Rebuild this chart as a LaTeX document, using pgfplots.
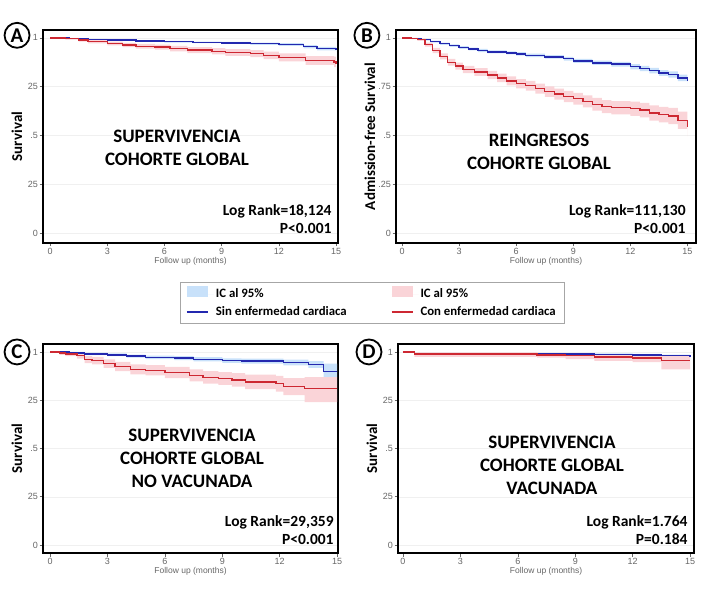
\documentclass[border=0pt]{standalone}
\usepackage{pgfplots}
\pgfplotsset{compat=1.18}
\usepackage{pgfplotstable}
\usepgfplotslibrary{fillbetween}
\usepackage{fontspec}
\setmainfont{Carlito}
\newfontfamily\arial{Liberation Sans}

\definecolor{blueL}{RGB}{35,40,175}
\definecolor{redL}{RGB}{205,40,50}
\definecolor{blueCI}{RGB}{200,225,250}
\definecolor{redCI}{RGB}{250,212,216}

% x = months, y = survival, lo/hi = 95% CI
\pgfplotstableread{
x y lo hi
0 1 1 1
1 0.996 0.994 0.998
2 0.992 0.989 0.995
3 0.988 0.985 0.991
4.5 0.984 0.980 0.988
6 0.980 0.976 0.984
7.5 0.977 0.973 0.981
9 0.974 0.969 0.979
10.5 0.970 0.964 0.976
12 0.966 0.959 0.973
13.3 0.954 0.946 0.962
14 0.945 0.936 0.954
15 0.937 0.927 0.947
}\Ablue
\pgfplotstableread{
x y lo hi
0 1 1 1
0.8 0.996 0.991 1
1.5 0.988 0.981 0.995
2 0.980 0.971 0.988
3 0.971 0.961 0.981
3.8 0.963 0.952 0.974
4.5 0.957 0.945 0.969
5.5 0.952 0.939 0.965
6.3 0.945 0.931 0.959
7.2 0.937 0.922 0.952
8.5 0.931 0.915 0.947
9.2 0.925 0.908 0.942
10.5 0.919 0.901 0.937
11.2 0.910 0.891 0.929
12 0.900 0.880 0.920
13.4 0.884 0.861 0.906
14.9 0.877 0.850 0.904
15 0.865 0.835 0.895
}\Ared
\pgfplotstableread{
x y lo hi
0 1 1 1
0.5 0.998 0.996 1
1 0.990 0.986 0.994
1.5 0.980 0.975 0.985
2 0.970 0.964 0.976
2.5 0.960 0.954 0.966
3 0.950 0.943 0.957
3.5 0.943 0.936 0.950
4 0.935 0.927 0.943
4.5 0.928 0.920 0.936
5.5 0.923 0.915 0.931
6 0.918 0.909 0.927
6.5 0.910 0.901 0.919
7.5 0.902 0.893 0.911
8.5 0.893 0.883 0.903
9 0.882 0.872 0.892
10 0.872 0.861 0.883
11 0.865 0.853 0.877
12 0.852 0.839 0.865
12.5 0.843 0.830 0.856
13 0.832 0.818 0.846
13.5 0.820 0.805 0.835
14 0.812 0.796 0.828
14.5 0.795 0.778 0.812
15 0.780 0.762 0.798
}\Bblue
\pgfplotstableread{
x y lo hi
0 1 1 1
0.5 0.997 0.993 1
0.8 0.990 0.984 0.996
1.2 0.965 0.955 0.975
1.6 0.935 0.922 0.948
2 0.905 0.890 0.920
2.4 0.875 0.858 0.892
2.8 0.855 0.837 0.873
3.2 0.838 0.819 0.857
3.8 0.825 0.805 0.845
4.5 0.810 0.789 0.831
5 0.795 0.773 0.817
5.5 0.780 0.757 0.803
6 0.765 0.741 0.789
6.5 0.755 0.730 0.780
7 0.740 0.714 0.766
7.5 0.725 0.698 0.752
8 0.712 0.684 0.740
8.5 0.700 0.671 0.729
9 0.688 0.658 0.718
9.5 0.675 0.644 0.706
10 0.660 0.628 0.692
10.5 0.648 0.615 0.681
11 0.642 0.608 0.676
12 0.637 0.601 0.673
12.5 0.630 0.593 0.667
13 0.615 0.576 0.654
13.5 0.607 0.567 0.647
14 0.600 0.558 0.642
14.5 0.578 0.534 0.622
15 0.545 0.495 0.595
}\Bred
\pgfplotstableread{
x y lo hi
0 1 1 1
1 0.995 0.990 1
1.8 0.990 0.984 0.996
3 0.985 0.978 0.992
4 0.978 0.970 0.986
5 0.972 0.963 0.981
6.5 0.968 0.958 0.978
7.5 0.962 0.951 0.973
9 0.955 0.943 0.967
10 0.952 0.939 0.965
12.2 0.945 0.930 0.960
13.5 0.935 0.918 0.952
14.3 0.900 0.870 0.940
15 0.900 0.870 0.940
}\Cblue
\pgfplotstableread{
x y lo hi
0 1 1 1
0.5 0.995 0.985 1
0.8 0.990 0.978 1
1.4 0.980 0.965 0.995
1.8 0.960 0.942 0.978
2.2 0.955 0.935 0.974
2.8 0.940 0.918 0.962
3.4 0.925 0.901 0.949
4.2 0.910 0.884 0.936
5 0.905 0.878 0.932
6 0.893 0.864 0.922
7.3 0.878 0.847 0.909
8 0.868 0.836 0.900
8.8 0.862 0.829 0.895
9.5 0.855 0.820 0.890
10.2 0.845 0.807 0.883
11.8 0.835 0.794 0.876
12.2 0.820 0.776 0.864
13.3 0.810 0.740 0.870
15 0.810 0.740 0.870
}\Cred
\pgfplotstableread{
x y lo hi
0 1 1 1
0.6 0.993 0.990 0.996
3 0.992 0.989 0.995
6 0.991 0.988 0.994
8.5 0.990 0.986 0.994
10 0.988 0.984 0.992
12 0.985 0.980 0.990
13.5 0.980 0.974 0.986
15 0.975 0.968 0.982
}\Dblue
\pgfplotstableread{
x y lo hi
0 1 1 1
0.6 0.990 0.975 0.998
7 0.985 0.970 0.995
8.5 0.980 0.963 0.992
10 0.973 0.954 0.987
12 0.968 0.947 0.983
13.5 0.955 0.910 0.980
15 0.955 0.910 0.980
}\Dred

\newcommand{\kmband}[3]{%
  \addplot[name path=#3u, draw=none, const plot, forget plot] table[x=x,y=hi]{#1};
  \addplot[name path=#3l, draw=none, const plot, forget plot] table[x=x,y=lo]{#1};
  \addplot[fill=#2, draw=none, forget plot] fill between[of=#3u and #3l];
}
\newcommand{\kmline}[2]{%
  \addplot[#2, const plot, line width=1.4pt, forget plot] table[x=x,y=y]{#1};
}

\tikzset{
  panel/.style={circle, draw, line width=1.8pt, inner sep=0pt, minimum size=25pt,
    font=\bfseries\fontsize{21}{21}\selectfont},
  big/.style={align=center, font=\bfseries\fontsize{19}{23}\selectfont},
  lr/.style={align=right, anchor=east, font=\bfseries\fontsize{15.5}{18}\selectfont},
}
\pgfplotsset{
  patch legend/.style={legend image code/.code={%
    \fill[##1] (0pt,-3pt) rectangle (21pt,8pt); \path (0pt,0pt) -- (27pt,0pt);}},
  bar legend/.style={legend image code/.code={%
    \draw[##1, line width=1.7pt] (0pt,0pt) -- (21pt,0pt);}},
  km/.style={
    scale only axis, clip mode=individual,
    axis line style={line width=1.6pt},
    xtick={0,3,6,9,12,15},
    ytick={0,0.25,0.5,0.75,1},
    yticklabels={0,25,.5,25,1},
    xtick pos=left, ytick pos=left,
    tick align=outside, major tick length=3.5pt,
    tick style={gray!80!black, semithick},
    ymajorgrids, grid style={gray!12},
    /pgf/number format/assume math mode=true,
    ticklabel style={font=\arial\fontsize{9}{10}\selectfont, text=gray!80!black, inner sep=1.5pt},
    xlabel={Follow up (months)},
    every axis x label/.style={at={(rel axis cs:0.5,0)}, yshift=-18.5pt, anchor=center,
      font=\arial\fontsize{8.5}{10}\selectfont, text=gray!80!black, inner sep=1pt},
    every axis y label/.style={at={(rel axis cs:0,0.5)}, xshift=-26pt, rotate=90, anchor=center,
      font=\bfseries\fontsize{15}{17}\selectfont},
    ylabel={Survival},
  },
}

\begin{document}
\begin{tikzpicture}

% A
\begin{axis}[km, at={(43pt,357pt)}, anchor=south west, width=295pt, height=213pt,
  xmin=-0.37, xmax=15.1, ymin=-0.05, ymax=1.04,
  legend columns=2, legend cell align=left,
  legend style={at={(0.464,-0.183)}, anchor=north west, draw=gray!70,
    font=\bfseries\fontsize{12.8}{15}\selectfont,
    /tikz/every even column/.append style={column sep=42pt},
    inner xsep=6pt, inner ysep=4pt, row sep=3pt}]
\addlegendimage{patch legend, fill=blueCI, draw=none}
\addlegendimage{patch legend, fill=redCI, draw=none}
\addlegendimage{bar legend, draw=blueL}
\addlegendimage{bar legend, draw=redL}
\legend{IC al 95\%, IC al 95\%, Sin enfermedad cardiaca, Con enfermedad cardiaca}
\kmband{\Ablue}{blueCI}{ab}
\kmband{\Ared}{redCI}{ar}
\kmline{\Ablue}{blueL}
\kmline{\Ared}{redL}
\node[big] at (axis description cs:0.454,0.446) {SUPERVIVENCIA\\COHORTE GLOBAL};
\node[lr] at (axis description cs:0.99,0.113) {Log Rank=18,124\\P<0.001};
\node[panel] at (axis description cs:-0.088,0.975) {A};
\end{axis}

% B
\begin{axis}[km, at={(396pt,357pt)}, anchor=south west, width=300pt, height=213pt,
  xmin=-0.32, xmax=15.45, ymin=-0.05, ymax=1.04,
  yticklabels={0,.25,.5,.75,1}, ylabel={Admission-free Survival}]
\kmband{\Bblue}{blueCI}{bb}
\kmband{\Bred}{redCI}{br}
\kmline{\Bblue}{blueL}
\kmline{\Bred}{redL}
\node[big] at (axis description cs:0.477,0.427) {REINGRESOS\\COHORTE GLOBAL};
\node[lr] at (axis description cs:0.977,0.113) {Log Rank=111,130\\P<0.001};
\node[panel] at (axis description cs:-0.097,0.975) {B};
\end{axis}

% C
\begin{axis}[km, at={(43pt,47pt)}, anchor=south west, width=295pt, height=209pt,
  xmin=-0.37, xmax=15.05, ymin=-0.041, ymax=1.041]
\kmband{\Cblue}{blueCI}{cb}
\kmband{\Cred}{redCI}{cr}
\kmline{\Cblue}{blueL}
\kmline{\Cred}{redL}
\node[big] at (axis description cs:0.505,0.455) {SUPERVIVENCIA\\COHORTE GLOBAL\\NO VACUNADA};
\node[lr] at (axis description cs:0.997,0.11) {Log Rank=29,359\\P<0.001};
\node[panel] at (axis description cs:-0.088,0.962) {C};
\end{axis}

% D
\begin{axis}[km, at={(398pt,47pt)}, anchor=south west, width=296pt, height=209pt,
  xmin=-0.26, xmax=15.2, ymin=-0.041, ymax=1.041]
\kmband{\Dblue}{blueCI}{db}
\kmband{\Dred}{redCI}{dr}
\kmline{\Dblue}{blueL}
\kmline{\Dred}{redL}
\node[big] at (axis description cs:0.52,0.42) {SUPERVIVENCIA\\COHORTE GLOBAL\\VACUNADA};
\node[lr] at (axis description cs:0.99,0.11) {Log Rank=1.764\\P=0.184};
\node[panel] at (axis description cs:-0.098,0.962) {D};
\end{axis}

\path (0pt,0pt) rectangle (708pt,600pt);
\end{tikzpicture}
\end{document}
